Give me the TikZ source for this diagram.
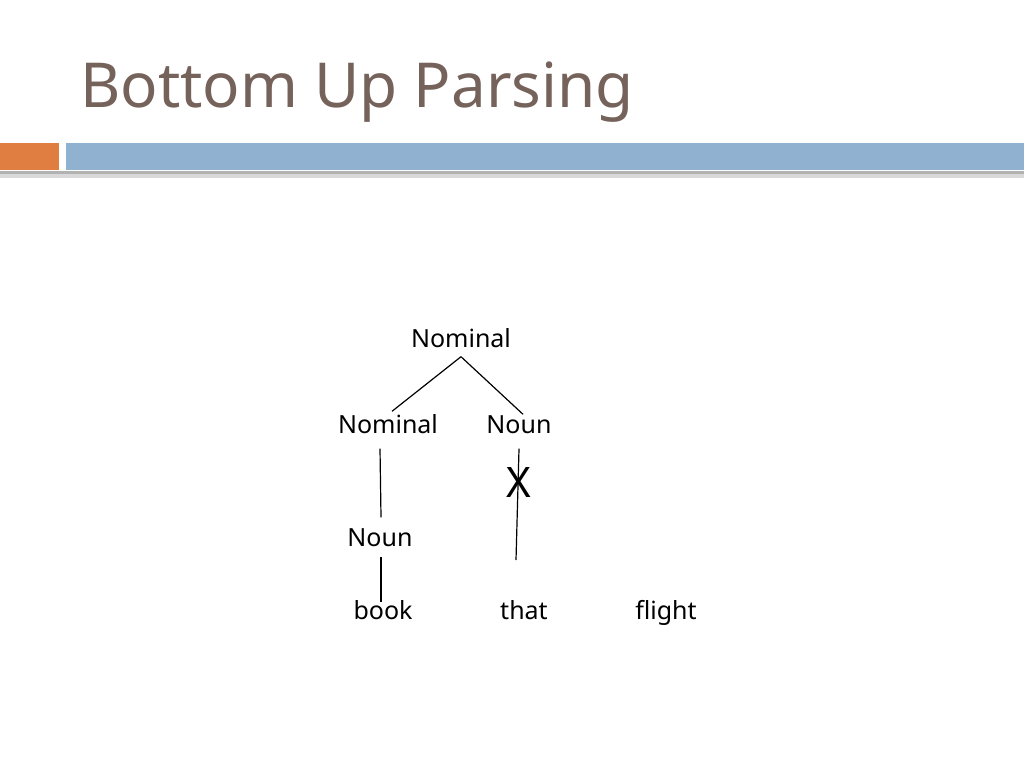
\documentclass[tikz,border=0pt]{standalone}
\usepackage{fontspec}
\setmainfont{Noto Sans}
\usepackage{tikz}
\usetikzlibrary{positioning}
\definecolor{titlebrown}{RGB}{117,98,90}
\definecolor{barorange}{RGB}{224,125,64}
\definecolor{barblue}{RGB}{144,178,208}
\tikzset{x=1pt, y=-1pt, % Pixel units, y going down
cat/.style={ % Sets the properties for each category label
inner sep=2pt,
text height=18pt, text depth=5pt,
font=\fontsize{25}{30}\selectfont},
word/.style={ % Sets the properties for each word
inner sep=2pt,
text height=18pt, text depth=5pt,
font=\fontsize{25}{30}\selectfont},
branch/.style={ % Sets the properties for each tree line
draw,
line width=1.2pt}}

\begin{document}
\begin{tikzpicture}
				\useasboundingbox (0,0) rectangle (1024,768);
				\fill[white] (0,0) rectangle (1024,768);

				% header
				\node[anchor=base west, inner sep=0pt, text=titlebrown, font=\fontsize{62}{70}\selectfont] (title) at (80,107) {Bottom Up Parsing};
				\fill[gray!60] (0,171) rectangle (1024,174);
				\fill[gray!30] (0,174) rectangle (1024,178);
				\fill[barorange] (0,143) rectangle (59,170);
				\fill[barblue] (66,143) rectangle (1024,170);

				% tree
				\node[cat] (nomTop) at (461,341) {Nominal};
				\node[cat] (nomL) at (388,427) {Nominal};
				\node[cat] (nounR) at (519,427) {Noun};
				\node[cat] (nounL) at (380,540) {Noun};
				\node[word] (book) at (383,613) {book};
				\node[word] (that) at (524,613) {that};
				\node[word] (flight) at (666,613) {flight};
				\node[inner sep=0pt, font=\fontsize{42}{48}\selectfont] (cross) at (519,482) {X};
				\coordinate (cut) at (516,560);

				\draw[branch] ([yshift=-2pt]nomTop.south) -- ([xshift=4pt,yshift=2pt]nomL.north);
				\draw[branch] ([yshift=-2pt]nomTop.south) -- ([xshift=4pt,yshift=-1pt]nounR.north);
				\draw[branch] ([yshift=-8pt]nounL.north |- nomL.south) -- ([xshift=1pt,yshift=9pt]nounL.north);
				\draw[branch] ([xshift=1pt,yshift=-3.5pt]nounL.south) -- ([xshift=-2pt,yshift=-2.5pt]book.north);
				\draw[branch] ([yshift=-8pt]nounR.south) -- (cut);
			\end{tikzpicture}
\end{document}
